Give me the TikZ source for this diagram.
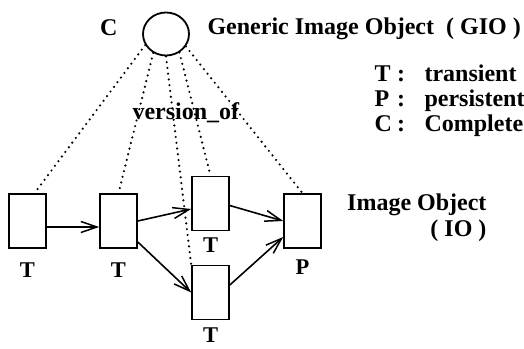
\documentclass[tikz,border=0pt]{standalone}
\usepackage{fontspec}
\setmainfont{Liberation Serif}
\usetikzlibrary{arrows.meta, positioning, shapes.geometric}
\tikzset{%
	every imgbox/.style={
		rectangle,
		draw,
		line width=1.6pt,
		inner sep=0pt,
		minimum width=37pt,
		minimum height=54pt
	},
	gio node/.style={
		ellipse,
		draw,
		line width=1.8pt,
		inner sep=0pt,
		minimum width=46pt,
		minimum height=43pt
	},
	state label/.style={
		inner sep=0pt,
		font=\fontsize{22.5}{25}\selectfont\bfseries
	},
	version/.style={
		line width=2.4pt,
		line cap=round,
		dash pattern=on 0pt off 5.8pt
	},
	step arrow/.style={
		line width=1.6pt,
		-{Straight Barb[length=16pt, width=11pt, line width=1.5pt]}
	},
}

\begin{document}
\begin{tikzpicture}[x=1pt, y=-1pt, every node/.style={font=\fontsize{24}{26}\selectfont\bfseries}]
		
		\useasboundingbox (0,0) rectangle (524,348);
		
		\node [gio node] (gio) at (166,34) {};
		
		\foreach \n/\x/\y in {1/27.5/221, 2/118.5/221, 3/210.5/203.5, 4/210.5/292.5, 5/302.5/221}
		\node [every imgbox] (box-\n) at (\x,\y) {};
		
		\foreach \n/\l/\d in {1/T/14, 2/T/14, 3/T/6.5, 4/T/7, 5/P/10.5}
		\node [state label, below=\d pt of box-\n] (lbl-\n) {\l};
		
		% version_of links
		\draw [version] (gio.208) -- ([xshift=7pt]box-1.north);
		\draw [version] (gio.236) -- (box-2.north);
		\draw [version] (gio.270) -- (box-4.north west);
		\draw [version] (gio.306) -- (box-3.north);
		\draw [version] (gio.328) -- (box-5.north);
		
		\draw [step arrow] ([yshift=-6pt]box-1.east) -- ([yshift=-6pt]box-2.west);
		\draw [step arrow] (box-2.east) -- ([yshift=-5.5pt]box-3.west);
		\draw [step arrow] ([yshift=-21pt]box-2.east) -- (box-4.west);
		\draw [step arrow] ([yshift=-2pt]box-3.east) -- (box-5.west);
		\draw [step arrow] ([yshift=7.5pt]box-4.east) -- ([yshift=-16pt]box-5.west);
		
		\node [anchor=base east] (c-mark) at (121,35) {C};
		\node [anchor=base west] (gio-text) at (204,34) {Generic Image Object\ \ ( GIO )};
		\node [anchor=base west] (version-text) at (129,119) {version\_of};
		\node [anchor=base east, align=right] (io-text) at (490,236) {Image Object\\( IO )};
		
		\foreach \k/\w [count=\i] in {T/transient, P/persistent, C/Complete}
		{
		\node [anchor=base west] (key-\i) at (371,56+\i*25) {\k};
		\node [anchor=base] (colon-\i) at (401,56+\i*25) {:};
		\node [anchor=base west] (word-\i) at (421,56+\i*25) {\w};
		}
		
\end{tikzpicture}
\end{document}
